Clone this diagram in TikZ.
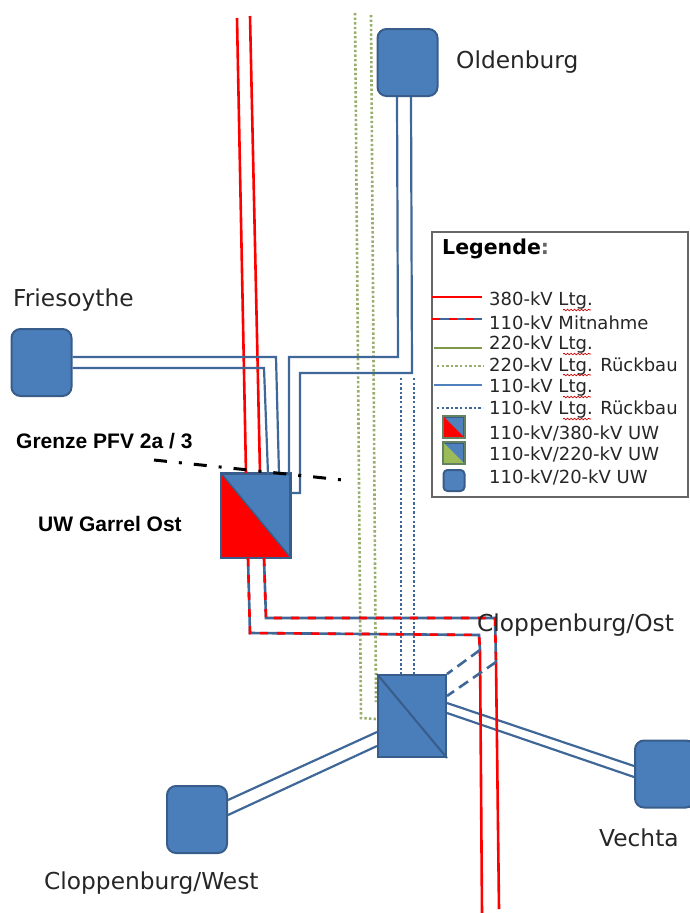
\documentclass[tikz,border=0pt]{standalone}
\usepackage{fontspec}
\setmainfont{DejaVu Sans}
\newfontfamily\boldlabel{Liberation Sans}
\usetikzlibrary{decorations.pathmorphing}
\definecolor{uwblue}{HTML}{4A7EBB}
\definecolor{uwedge}{HTML}{385D8A}
\definecolor{ltgblue}{HTML}{3F6797}
\definecolor{ltggreen}{HTML}{7F9A48}
\definecolor{iconblue}{HTML}{4F81BD}
\definecolor{icongreen}{HTML}{9BBB59}
\tikzset{
  uwround/.style={draw=uwedge,fill=uwblue,line width=2pt,rounded corners=9pt,minimum width=60pt,minimum height=67pt,inner sep=0pt},
  uwsquare/.style={draw=uwedge,fill=uwblue,line width=2pt,inner sep=0pt},
  ltg110/.style={draw=ltgblue,line width=2.2pt},
  ltg380/.style={draw=red,line width=2.6pt},
  rueck110/.style={draw=ltgblue,line width=2.4pt,dash pattern=on 2.4pt off 2.2pt},
  rueck220/.style={draw=ltggreen!80,line width=2.6pt,dash pattern=on 2.4pt off 2.2pt},
  mitblue/.style={draw=ltgblue,line width=2.6pt},
  mitred/.style={draw=red,line width=2.6pt,dash pattern=on 8pt off 9pt},
  placename/.style={anchor=west,inner sep=0pt,font=\fontsize{23.3}{23.3}\selectfont,text=black!85},
  boldname/.style={anchor=west,inner sep=0pt,font=\boldlabel\bfseries\fontsize{21}{21}\selectfont},
  legtext/.style={anchor=west,inner sep=0pt,font=\fontsize{18}{18}\selectfont,text=black!85},
  squiggle/.style={draw=red!80!black,line width=.7pt,decorate,decoration={snake,amplitude=.8pt,segment length=3.5pt}}
}
\begin{document}
\begin{tikzpicture}[x=1pt,y=-1pt]
  \useasboundingbox (0,0) rectangle (689,913);

  % 220-kV Rueckbau
  \coordinate (gA) at (355,13);
  \coordinate (gB) at (371,15);
  \draw[rueck220] (gA) -- (361,718) -- (376,719);
  \draw[rueck220] (gB) -- (376,702);

  % 110-kV Rueckbau
  \coordinate (dA) at (401,378);
  \coordinate (dB) at (414,378);
  \coordinate (dC) at (401,676);
  \coordinate (dD) at (414,676);
  \draw[rueck110] (dA) -- (dC);
  \draw[rueck110] (dB) -- (dD);

  % Umspannwerke
  \node[uwround] (oldenburg) at (407.5,62.5) {};
  \node[uwround] (friesoythe) at (41.5,362.5) {};
  \node[uwround] (west) at (197,819.5) {};
  \node[uwround] (vechta) at (665,774) {};
  \node[uwsquare,minimum width=68pt,minimum height=83pt] (garrel) at (256,515.5) {};
  \node[uwsquare,minimum width=68pt,minimum height=82pt] (ost) at (412,716) {};
  \fill[red] (garrel.north west) -- (garrel.south west) -- (garrel.south east) -- cycle;
  \draw[uwedge,line width=2pt] (garrel.north west) rectangle (garrel.south east);
  \draw[uwedge,line width=1.4pt] (garrel.north west) -- (garrel.south east);
  \draw[uwedge,line width=2pt] (ost.north west) -- (ost.south east);

  % 380-kV
  \coordinate (rA) at (237,18);
  \coordinate (rB) at (250,16);
  \draw[ltg380] (rA) -- (246,473);
  \draw[ltg380] (rB) -- (260,473);

  % 110-kV
  \draw[ltg110] (friesoythe.east |- 0,357) -- (276,357) -- (279,474);
  \draw[ltg110] (friesoythe.east |- 0,368) -- (264,368) -- (268,474);
  \draw[ltg110] (oldenburg.south -| 397,0) -- (398,357) -- (289,357) -- (289,474);
  \draw[ltg110] (oldenburg.south -| 411,0) -- (412,373) -- (300,373) -- (300,493) -- (garrel.east |- 0,493);
  \draw[ltg110] (west.east |- 0,800) -- (ost.west |- 0,732);
  \draw[ltg110] (west.east |- 0,815) -- (ost.west |- 0,746);
  \draw[ltg110] (ost.east |- 0,703) -- (vechta.west |- 0,766);
  \draw[ltg110] (ost.east |- 0,713) -- (vechta.west |- 0,777);

  % Mitnahme
  \coordinate (mA) at (495,618);
  \coordinate (mB) at (479,635);
  \coordinate (mC) at (496,662);
  \coordinate (mD) at (480,650);
  \draw[ltg380] (mC) -- (499,909);
  \draw[ltg380] (mD) -- (482,913);
  \foreach \s in {mitblue,mitred}{
    \draw[\s] (garrel.south -| 264,0) -- (266,618) -- (mA) -- (mC);
    \draw[\s] (garrel.south -| 248,0) -- (250,633) -- (mB) -- (mD);
  }
  \draw[ltgblue,line width=2.6pt,dash pattern=on 11pt off 6pt] (mD) -- (ost.north east);
  \draw[ltgblue,line width=2.6pt,dash pattern=on 11pt off 6pt] (mC) -- (ost.east |- 0,696);

  % Grenze
  \coordinate (grA) at (154,460);
  \coordinate (grB) at (343,480);
  \draw[line width=3pt,dash pattern=on 13pt off 12pt on 3pt off 12pt] (grA) -- (grB);

  % Namen
  \node[placename] (lold) at (456,62) {Oldenburg};
  \node[placename] (lfri) at (13,300) {Friesoythe};
  \node[placename] (lost) at (477,625) {Cloppenburg/Ost};
  \node[placename] (lvec) at (599,838) {Vechta};
  \node[placename] (lwes) at (44,883) {Cloppenburg/West};
  \node[boldname] (lgre) at (16,441) {Grenze PFV 2a / 3};
  \node[boldname] (lgar) at (38,524) {UW Garrel Ost};

  % Legende
  \node[draw=black!60,fill=white,line width=1.8pt,minimum width=256pt,minimum height=265pt,inner sep=0pt] (legend) at (560,364.5) {};
  \node[anchor=west,inner sep=0pt,font=\bfseries\fontsize{20.5}{20.5}\selectfont] (leghead) at (442,249) {Legende\textcolor{black!60}{:}};
  \node[legtext] (t1) at (489,301) {380-kV Ltg.};
  \node[legtext] (t2) at (489,323) {110-kV Mitnahme};
  \node[legtext] (t3) at (489,345) {220-kV Ltg.};
  \node[legtext] (t4) at (489,367) {220-kV Ltg. Rückbau};
  \node[legtext] (t5) at (489,388) {110-kV Ltg.};
  \node[legtext] (t6) at (489,410) {110-kV Ltg. Rückbau};
  \node[legtext] (t7) at (489,433) {110-kV/380-kV UW};
  \node[legtext] (t8) at (489,454) {110-kV/220-kV UW};
  \node[legtext] (t9) at (489,477) {110-kV/20-kV UW};
  \foreach \y in {310,354,375,397,419}
    \draw[squiggle] (563,\y) -- (591,\y);

  \coordinate (k1) at (432,297);
  \coordinate (k2) at (432,319);
  \coordinate (k3) at (434,348);
  \coordinate (k4) at (437,366);
  \coordinate (k5) at (434,385);
  \coordinate (k6) at (437,408);
  \draw[ltg380] (k1) -- (482,297);
  \draw[mitblue] (k2) -- (482,319);
  \draw[mitred] (k2) -- (474,319);
  \draw[draw=ltggreen,line width=2.6pt] (k3) -- (482,348);
  \draw[rueck220] (k4) -- (484,366);
  \draw[draw=iconblue,line width=2.4pt] (k5) -- (482,385);
  \draw[rueck110] (k6) -- (483,408);

  \node[uwsquare,fill=iconblue,minimum width=20pt,minimum height=20pt] (i1) at (454,427) {};
  \fill[red] (i1.north west) -- (i1.south west) -- (i1.south east) -- cycle;
  \draw[ltggreen!60!uwedge,line width=1.6pt] (i1.north west) rectangle (i1.south east);
  \node[uwsquare,fill=iconblue,minimum width=20pt,minimum height=20pt] (i2) at (454,453) {};
  \fill[icongreen] (i2.north west) -- (i2.south west) -- (i2.south east) -- cycle;
  \draw[ltggreen!60!uwedge,line width=1.6pt] (i2.north west) rectangle (i2.south east);
  \node[uwround,fill=iconblue,minimum width=21pt,minimum height=21pt,rounded corners=4pt] (i3) at (454,480.5) {};
\end{tikzpicture}
\end{document}
